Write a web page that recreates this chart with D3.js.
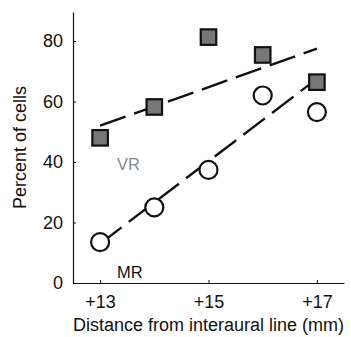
<!DOCTYPE html>
<html>
<head>
<meta charset="utf-8">
<script src="https://cdn.jsdelivr.net/npm/d3@7"></script>
<style>
    body { margin: 0; background: #fff; }
    text { font-family: "Liberation Sans", Arial, Helvetica, sans-serif; fill: #111; }
</style>
</head>
<body>
<div id="chart"></div>
<script>
// data
let distances = [13, 14, 15, 16, 17];
let vrValues = [48, 58.2, 81.3, 75.4, 66.4];
let mrValues = [13.5, 25, 37.4, 62, 56.5];
// dashed fit lines: [x, y] end points
let vrFit = [[13, 52], [17, 77.5]];
let mrFit = [[13, 13], [17, 67.5]];
let xTicks = [13, 15, 17];
let yTicks = [0, 20, 40, 60, 80];

let margin = {top: 12, right: 7, bottom: 54, left: 73};
let width = 351 - margin.left - margin.right,
    height = 337 - margin.top - margin.bottom;

let svg = d3.select("#chart").append("svg")
    .attr("width", 351)
    .attr("height", 337)
    .append("g")
    .attr("transform", "translate(" + margin.left + "," + margin.top + ")");

// scales
let x = d3.scaleLinear().domain([12.5, 17.5]).range([0, width]);
let y = d3.scaleLinear().domain([0, 89.6]).range([height, 0]);

// axes (ticks point inwards)
let xAxis = svg.append("g")
    .attr("transform", "translate(0," + height + ")")
    .call(d3.axisBottom(x).tickValues(xTicks).tickSize(-3).tickPadding(12.5)
        .tickFormat(d => "+" + d).tickSizeOuter(0));
let yAxis = svg.append("g")
    .call(d3.axisLeft(y).tickValues(yTicks).tickSize(-3).tickPadding(10).tickSizeOuter(0));

[xAxis, yAxis].forEach(a => {
    a.select(".domain").attr("stroke", "#111").attr("stroke-width", 1.2);
    a.selectAll(".tick line").attr("stroke", "#111");
    a.selectAll(".tick text").attr("font-size", 18).style("fill", "#111");
});

// axis titles
svg.append("text")
    .attr("x", 135.5)
    .attr("y", height + 48)
    .attr("text-anchor", "middle")
    .attr("font-size", 18)
    .text("Distance from interaural line (mm)");

svg.append("text")
    .attr("transform", "translate(-47," + (height / 2) + ") rotate(-90)")
    .attr("text-anchor", "middle")
    .attr("font-size", 18)
    .text("Percent of cells");

// fit lines
let line = d3.line()
    .x(d => x(d[0]))
    .y(d => y(d[1]));

[vrFit, mrFit].forEach(fit => {
    svg.append("path")
        .datum(fit)
        .attr("d", line)
        .attr("fill", "none")
        .attr("stroke", "#111")
        .attr("stroke-width", 2.4)
        .attr("stroke-dasharray", "27,9");
});

// VR squares
let sq = 15.5;
svg.selectAll(".vr")
    .data(distances.map((d, i) => ({x: d, y: vrValues[i]})))
    .enter().append("rect")
    .attr("class", "vr")
    .attr("x", d => x(d.x) - sq / 2)
    .attr("y", d => y(d.y) - sq / 2)
    .attr("width", sq)
    .attr("height", sq)
    .attr("fill", "#777")
    .attr("stroke", "#111")
    .attr("stroke-width", 2.2);

// MR circles
svg.selectAll(".mr")
    .data(distances.map((d, i) => ({x: d, y: mrValues[i]})))
    .enter().append("circle")
    .attr("class", "mr")
    .attr("cx", d => x(d.x))
    .attr("cy", d => y(d.y))
    .attr("r", 9)
    .attr("fill", "#fff")
    .attr("stroke", "#111")
    .attr("stroke-width", 2.2);

// series labels
svg.append("text")
    .attr("x", 44)
    .attr("y", 158)
    .attr("font-size", 16.5)
    .style("fill", "#888")
    .text("VR");

svg.append("text")
    .attr("x", 44)
    .attr("y", 266)
    .attr("font-size", 16.5)
    .text("MR");
</script>
</body>
</html>
